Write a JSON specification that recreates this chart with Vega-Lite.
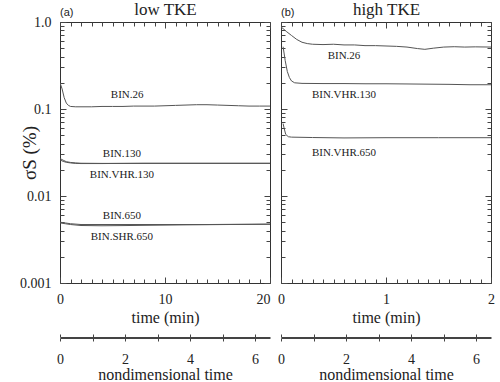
{
  "$schema": "https://vega.github.io/schema/vega-lite/v6.json",
  "padding": {"left": 19, "top": 0, "right": 5, "bottom": 0},
  "config": {
    "font": "Liberation Serif",
    "view": {"stroke": "#333", "strokeWidth": 1},
    "axis": {
      "grid": false,
      "domain": false,
      "labelFont": "Liberation Serif",
      "labelFontSize": 14,
      "labelColor": "#222",
      "titleFont": "Liberation Serif",
      "titleFontSize": 16,
      "titleFontWeight": "normal",
      "titleColor": "#222",
      "tickColor": "#444",
      "labelFlush": false,
      "labelOverlap": false
    },
    "title": {"font": "Liberation Sans", "fontSize": 11, "fontWeight": "normal", "color": "#222"}
  },
  "datasets": {
    "a": [
      {"s": "BIN.26", "t": 0, "v": 0.2}, {"s": "BIN.26", "t": 0.2, "v": 0.17}, {"s": "BIN.26", "t": 0.4, "v": 0.135},
      {"s": "BIN.26", "t": 0.6, "v": 0.117}, {"s": "BIN.26", "t": 0.8, "v": 0.11}, {"s": "BIN.26", "t": 1.0, "v": 0.107},
      {"s": "BIN.26", "t": 1.5, "v": 0.106}, {"s": "BIN.26", "t": 2, "v": 0.106}, {"s": "BIN.26", "t": 3, "v": 0.106},
      {"s": "BIN.26", "t": 4, "v": 0.107}, {"s": "BIN.26", "t": 5, "v": 0.107}, {"s": "BIN.26", "t": 6, "v": 0.107},
      {"s": "BIN.26", "t": 7, "v": 0.108}, {"s": "BIN.26", "t": 8, "v": 0.108}, {"s": "BIN.26", "t": 9, "v": 0.108},
      {"s": "BIN.26", "t": 10, "v": 0.109}, {"s": "BIN.26", "t": 11, "v": 0.11}, {"s": "BIN.26", "t": 12, "v": 0.111},
      {"s": "BIN.26", "t": 13, "v": 0.112}, {"s": "BIN.26", "t": 14, "v": 0.112}, {"s": "BIN.26", "t": 15, "v": 0.111},
      {"s": "BIN.26", "t": 16, "v": 0.11}, {"s": "BIN.26", "t": 17, "v": 0.109}, {"s": "BIN.26", "t": 18, "v": 0.108},
      {"s": "BIN.26", "t": 19, "v": 0.108}, {"s": "BIN.26", "t": 20, "v": 0.108},
      {"s": "BIN.130", "t": 0, "v": 0.027}, {"s": "BIN.130", "t": 0.3, "v": 0.0258}, {"s": "BIN.130", "t": 0.6, "v": 0.0248},
      {"s": "BIN.130", "t": 1, "v": 0.0243}, {"s": "BIN.130", "t": 1.5, "v": 0.024}, {"s": "BIN.130", "t": 2, "v": 0.0238},
      {"s": "BIN.130", "t": 4, "v": 0.0237}, {"s": "BIN.130", "t": 6, "v": 0.0237}, {"s": "BIN.130", "t": 8, "v": 0.0238},
      {"s": "BIN.130", "t": 10, "v": 0.0238}, {"s": "BIN.130", "t": 12, "v": 0.0238}, {"s": "BIN.130", "t": 14, "v": 0.0238},
      {"s": "BIN.130", "t": 16, "v": 0.0238}, {"s": "BIN.130", "t": 18, "v": 0.0238}, {"s": "BIN.130", "t": 20, "v": 0.0238},
      {"s": "BIN.VHR.130", "t": 0, "v": 0.026}, {"s": "BIN.VHR.130", "t": 0.3, "v": 0.025}, {"s": "BIN.VHR.130", "t": 0.6, "v": 0.0244},
      {"s": "BIN.VHR.130", "t": 1, "v": 0.024}, {"s": "BIN.VHR.130", "t": 1.5, "v": 0.0237}, {"s": "BIN.VHR.130", "t": 2, "v": 0.0236},
      {"s": "BIN.VHR.130", "t": 4, "v": 0.0236}, {"s": "BIN.VHR.130", "t": 6, "v": 0.0237}, {"s": "BIN.VHR.130", "t": 8, "v": 0.0237},
      {"s": "BIN.VHR.130", "t": 10, "v": 0.0237}, {"s": "BIN.VHR.130", "t": 12, "v": 0.0237}, {"s": "BIN.VHR.130", "t": 14, "v": 0.0237},
      {"s": "BIN.VHR.130", "t": 16, "v": 0.0237}, {"s": "BIN.VHR.130", "t": 18, "v": 0.0237}, {"s": "BIN.VHR.130", "t": 20, "v": 0.0237},
      {"s": "BIN.650", "t": 0, "v": 0.005}, {"s": "BIN.650", "t": 0.5, "v": 0.0049}, {"s": "BIN.650", "t": 1, "v": 0.0048},
      {"s": "BIN.650", "t": 2, "v": 0.0047}, {"s": "BIN.650", "t": 4, "v": 0.0047}, {"s": "BIN.650", "t": 6, "v": 0.0047},
      {"s": "BIN.650", "t": 8, "v": 0.0047}, {"s": "BIN.650", "t": 10, "v": 0.0047}, {"s": "BIN.650", "t": 12, "v": 0.0047},
      {"s": "BIN.650", "t": 14, "v": 0.0047}, {"s": "BIN.650", "t": 16, "v": 0.00472}, {"s": "BIN.650", "t": 18, "v": 0.00473},
      {"s": "BIN.650", "t": 20, "v": 0.00475},
      {"s": "BIN.SHR.650", "t": 0, "v": 0.0049}, {"s": "BIN.SHR.650", "t": 0.5, "v": 0.0048}, {"s": "BIN.SHR.650", "t": 1, "v": 0.0047},
      {"s": "BIN.SHR.650", "t": 2, "v": 0.00458}, {"s": "BIN.SHR.650", "t": 4, "v": 0.00455}, {"s": "BIN.SHR.650", "t": 6, "v": 0.00457},
      {"s": "BIN.SHR.650", "t": 8, "v": 0.0046}, {"s": "BIN.SHR.650", "t": 10, "v": 0.00463}, {"s": "BIN.SHR.650", "t": 12, "v": 0.00466},
      {"s": "BIN.SHR.650", "t": 14, "v": 0.00468}, {"s": "BIN.SHR.650", "t": 16, "v": 0.0047}, {"s": "BIN.SHR.650", "t": 18, "v": 0.00472},
      {"s": "BIN.SHR.650", "t": 20, "v": 0.00474}
    ],
    "b": [
      {"s": "BIN.26", "t": 0.0, "v": 0.88}, {"s": "BIN.26", "t": 0.05, "v": 0.78}, {"s": "BIN.26", "t": 0.1, "v": 0.7},
      {"s": "BIN.26", "t": 0.15, "v": 0.63}, {"s": "BIN.26", "t": 0.2, "v": 0.585}, {"s": "BIN.26", "t": 0.25, "v": 0.565},
      {"s": "BIN.26", "t": 0.3, "v": 0.555}, {"s": "BIN.26", "t": 0.4, "v": 0.55}, {"s": "BIN.26", "t": 0.5, "v": 0.555},
      {"s": "BIN.26", "t": 0.6, "v": 0.545}, {"s": "BIN.26", "t": 0.7, "v": 0.545}, {"s": "BIN.26", "t": 0.8, "v": 0.535},
      {"s": "BIN.26", "t": 0.9, "v": 0.535}, {"s": "BIN.26", "t": 1.0, "v": 0.53}, {"s": "BIN.26", "t": 1.1, "v": 0.525},
      {"s": "BIN.26", "t": 1.2, "v": 0.515}, {"s": "BIN.26", "t": 1.3, "v": 0.495}, {"s": "BIN.26", "t": 1.37, "v": 0.485},
      {"s": "BIN.26", "t": 1.45, "v": 0.5}, {"s": "BIN.26", "t": 1.55, "v": 0.515}, {"s": "BIN.26", "t": 1.65, "v": 0.52},
      {"s": "BIN.26", "t": 1.75, "v": 0.515}, {"s": "BIN.26", "t": 1.85, "v": 0.518}, {"s": "BIN.26", "t": 2.0, "v": 0.515},
      {"s": "BIN.VHR.130", "t": 0.02, "v": 0.52}, {"s": "BIN.VHR.130", "t": 0.04, "v": 0.36}, {"s": "BIN.VHR.130", "t": 0.06, "v": 0.27},
      {"s": "BIN.VHR.130", "t": 0.08, "v": 0.23}, {"s": "BIN.VHR.130", "t": 0.1, "v": 0.21}, {"s": "BIN.VHR.130", "t": 0.13, "v": 0.2},
      {"s": "BIN.VHR.130", "t": 0.2, "v": 0.197}, {"s": "BIN.VHR.130", "t": 0.4, "v": 0.196}, {"s": "BIN.VHR.130", "t": 0.6, "v": 0.196},
      {"s": "BIN.VHR.130", "t": 0.8, "v": 0.195}, {"s": "BIN.VHR.130", "t": 1.0, "v": 0.195}, {"s": "BIN.VHR.130", "t": 1.2, "v": 0.194},
      {"s": "BIN.VHR.130", "t": 1.4, "v": 0.193}, {"s": "BIN.VHR.130", "t": 1.6, "v": 0.192}, {"s": "BIN.VHR.130", "t": 1.8, "v": 0.19},
      {"s": "BIN.VHR.130", "t": 2.0, "v": 0.19},
      {"s": "BIN.VHR.650", "t": 0.02, "v": 0.068}, {"s": "BIN.VHR.650", "t": 0.03, "v": 0.06}, {"s": "BIN.VHR.650", "t": 0.045, "v": 0.051},
      {"s": "BIN.VHR.650", "t": 0.07, "v": 0.048}, {"s": "BIN.VHR.650", "t": 0.1, "v": 0.0475}, {"s": "BIN.VHR.650", "t": 0.3, "v": 0.047},
      {"s": "BIN.VHR.650", "t": 0.6, "v": 0.0465}, {"s": "BIN.VHR.650", "t": 1.0, "v": 0.0468}, {"s": "BIN.VHR.650", "t": 1.5, "v": 0.0468},
      {"s": "BIN.VHR.650", "t": 2.0, "v": 0.0468}
    ],
    "la": [
      {"t": 6.4, "v": 0.145, "s": "BIN.26"},
      {"t": 5.9, "v": 0.03, "s": "BIN.130"},
      {"t": 5.9, "v": 0.0174, "s": "BIN.VHR.130"},
      {"t": 5.9, "v": 0.0059, "s": "BIN.650"},
      {"t": 5.9, "v": 0.0034, "s": "BIN.SHR.650"}
    ],
    "lb": [
      {"t": 0.6, "v": 0.41, "s": "BIN.26"},
      {"t": 0.6, "v": 0.145, "s": "BIN.VHR.130"},
      {"t": 0.6, "v": 0.031, "s": "BIN.VHR.650"}
    ],
    "nd": [{"t": 0}, {"t": 6.46}]
  },
  "columns": 2,
  "bounds": "flush",
  "spacing": {"row": 54, "column": 11},
  "concat": [
    {
      "width": 210, "height": 261,
      "title": {"text": "(a)", "anchor": "start", "frame": "group", "offset": -17},
      "layer": [
        {
          "data": {"name": "a"},
          "mark": {"type": "line", "color": "#555", "strokeWidth": 1, "clip": true},
          "encoding": {
            "x": {"field": "t", "type": "quantitative", "scale": {"domain": [0, 20], "nice": false},
              "axis": {"orient": "bottom", "title": "time (min)", "values": [0,1,2,3,4,5,6,7,8,9,10,11,12,13,14,15,16,17,18,19,20],
                "labelExpr": "datum.value % 10 == 0 ? datum.label : ''",
                "labelAlign": {"condition": {"test": "datum.value == 20", "value": "right"}, "value": "center"},
                "tickSize": {"condition": {"test": "datum.value % 10 == 0", "value": -6}, "value": -4},
                "labelPadding": 15, "titlePadding": 1}},
            "y": {"field": "v", "type": "quantitative", "scale": {"type": "log", "domain": [0.001, 1], "nice": false},
              "axis": {"orient": "left", "title": "σS (%)", "titleFontSize": 19,
                "values": [0.001,0.002,0.003,0.004,0.005,0.006,0.007,0.008,0.009,0.01,0.02,0.03,0.04,0.05,0.06,0.07,0.08,0.09,0.1,0.2,0.3,0.4,0.5,0.6,0.7,0.8,0.9,1],
                "labelExpr": "datum.value == 1 ? '1.0' : datum.value == 0.1 ? '0.1' : datum.value == 0.01 ? '0.01' : datum.value == 0.001 ? '0.001' : ''",
                "tickSize": {"condition": {"test": "datum.value == 1 || datum.value == 0.1 || datum.value == 0.01 || datum.value == 0.001", "value": -6}, "value": -4},
                "labelPadding": 15, "titlePadding": -20}},
            "detail": {"field": "s"}
          }
        },
        {
          "data": {"name": "la"},
          "mark": {"type": "text", "font": "Liberation Serif", "fontSize": 11, "color": "#222"},
          "encoding": {
            "x": {"field": "t", "type": "quantitative",
              "axis": {"orient": "top", "title": "low TKE", "titleFontSize": 17, "labels": false, "titlePadding": 3,
                "values": [0,1,2,3,4,5,6,7,8,9,10,11,12,13,14,15,16,17,18,19,20],
                "tickSize": {"condition": {"test": "datum.value % 10 == 0", "value": -6}, "value": -4}}},
            "y": {"field": "v", "type": "quantitative",
              "axis": {"orient": "right", "title": null, "labels": false,
                "values": [0.001,0.002,0.003,0.004,0.005,0.006,0.007,0.008,0.009,0.01,0.02,0.03,0.04,0.05,0.06,0.07,0.08,0.09,0.1,0.2,0.3,0.4,0.5,0.6,0.7,0.8,0.9,1],
                "tickSize": {"condition": {"test": "datum.value == 1 || datum.value == 0.1 || datum.value == 0.01 || datum.value == 0.001", "value": -6}, "value": -4}}},
            "text": {"field": "s"}
          }
        }
      ],
      "resolve": {"axis": {"x": "independent", "y": "independent"}}
    },
    {
      "width": 210, "height": 261,
      "title": {"text": "(b)", "anchor": "start", "frame": "group", "offset": -17},
      "layer": [
        {
          "data": {"name": "b"},
          "mark": {"type": "line", "color": "#555", "strokeWidth": 1, "clip": true},
          "encoding": {
            "x": {"field": "t", "type": "quantitative", "scale": {"domain": [0, 2], "nice": false},
              "axis": {"orient": "bottom", "title": "time (min)",
                "values": [0,0.1,0.2,0.3,0.4,0.5,0.6,0.7,0.8,0.9,1,1.1,1.2,1.3,1.4,1.5,1.6,1.7,1.8,1.9,2],
                "labelExpr": "datum.value == 0 ? '0' : datum.value == 1 ? '1' : datum.value == 2 ? '2' : ''",
                "tickSize": {"condition": {"test": "datum.value == 0 || datum.value == 1 || datum.value == 2", "value": -6}, "value": -4},
                "labelPadding": 15, "titlePadding": 1}},
            "y": {"field": "v", "type": "quantitative", "scale": {"type": "log", "domain": [0.001, 1], "nice": false},
              "axis": {"orient": "left", "title": null, "labels": false,
                "values": [0.001,0.002,0.003,0.004,0.005,0.006,0.007,0.008,0.009,0.01,0.02,0.03,0.04,0.05,0.06,0.07,0.08,0.09,0.1,0.2,0.3,0.4,0.5,0.6,0.7,0.8,0.9,1],
                "tickSize": {"condition": {"test": "datum.value == 1 || datum.value == 0.1 || datum.value == 0.01 || datum.value == 0.001", "value": -6}, "value": -4}}},
            "detail": {"field": "s"}
          }
        },
        {
          "data": {"name": "lb"},
          "mark": {"type": "text", "font": "Liberation Serif", "fontSize": 11, "color": "#222"},
          "encoding": {
            "x": {"field": "t", "type": "quantitative",
              "axis": {"orient": "top", "title": "high TKE", "titleFontSize": 17, "labels": false, "titlePadding": 3,
                "values": [0,0.1,0.2,0.3,0.4,0.5,0.6,0.7,0.8,0.9,1,1.1,1.2,1.3,1.4,1.5,1.6,1.7,1.8,1.9,2],
                "tickSize": {"condition": {"test": "datum.value == 0 || datum.value == 1 || datum.value == 2", "value": -6}, "value": -4}}},
            "y": {"field": "v", "type": "quantitative",
              "axis": {"orient": "right", "title": null, "labels": false,
                "values": [0.001,0.002,0.003,0.004,0.005,0.006,0.007,0.008,0.009,0.01,0.02,0.03,0.04,0.05,0.06,0.07,0.08,0.09,0.1,0.2,0.3,0.4,0.5,0.6,0.7,0.8,0.9,1],
                "tickSize": {"condition": {"test": "datum.value == 1 || datum.value == 0.1 || datum.value == 0.01 || datum.value == 0.001", "value": -6}, "value": -4}}},
            "text": {"field": "s"}
          }
        }
      ],
      "resolve": {"axis": {"x": "independent", "y": "independent"}}
    },
    {
      "width": 210, "height": 1,
      "data": {"name": "nd"},
      "view": {"stroke": null},
      "layer": [
        {
          "mark": {"type": "point", "opacity": 0},
          "encoding": {
            "x": {"field": "t", "type": "quantitative", "scale": {"domain": [0, 6.46], "nice": false},
              "axis": {"orient": "bottom", "title": "nondimensional time", "values": [0,1,2,3,4,5,6],
                "labelExpr": "datum.value % 2 == 0 ? datum.label : ''", "tickSize": 3, "domain": true,
                "domainColor": "#444", "labelPadding": 11, "titlePadding": 0}},
            "y": {"field": "t", "type": "quantitative", "axis": null}
          }
        },
        {
          "mark": {"type": "point", "opacity": 0},
          "encoding": {
            "x": {"field": "t", "type": "quantitative",
              "axis": {"orient": "top", "title": null, "labels": false, "values": [0,1,2,3,4,5,6], "tickSize": 3, "domain": true, "domainColor": "#444"}},
            "y": {"field": "t", "type": "quantitative", "axis": null}
          }
        }
      ],
      "resolve": {"axis": {"x": "independent"}}
    },
    {
      "width": 210, "height": 1,
      "data": {"name": "nd"},
      "view": {"stroke": null},
      "layer": [
        {
          "mark": {"type": "point", "opacity": 0},
          "encoding": {
            "x": {"field": "t", "type": "quantitative", "scale": {"domain": [0, 6.46], "nice": false},
              "axis": {"orient": "bottom", "title": "nondimensional time", "values": [0,1,2,3,4,5,6],
                "labelExpr": "datum.value % 2 == 0 ? datum.label : ''", "tickSize": 3, "domain": true,
                "domainColor": "#444", "labelPadding": 11, "titlePadding": 0}},
            "y": {"field": "t", "type": "quantitative", "axis": null}
          }
        },
        {
          "mark": {"type": "point", "opacity": 0},
          "encoding": {
            "x": {"field": "t", "type": "quantitative",
              "axis": {"orient": "top", "title": null, "labels": false, "values": [0,1,2,3,4,5,6], "tickSize": 3, "domain": true, "domainColor": "#444"}},
            "y": {"field": "t", "type": "quantitative", "axis": null}
          }
        }
      ],
      "resolve": {"axis": {"x": "independent"}}
    }
  ]
}
